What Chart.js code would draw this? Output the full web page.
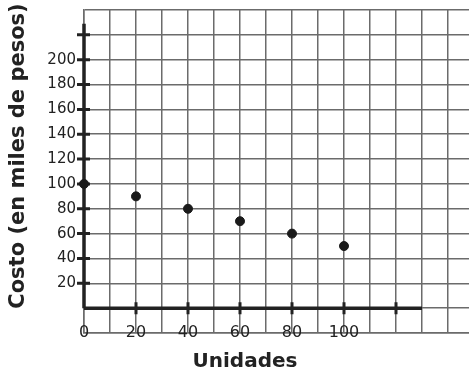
<!DOCTYPE html>
<html>
<head>
<meta charset="utf-8">
<script src="https://cdn.jsdelivr.net/npm/chart.js@4"></script>
<style>
  html, body { margin: 0; padding: 0; background: #fff; overflow: hidden; }
  #wrap { width: 469px; height: 373px; overflow: hidden; }
</style>
</head>
<body>
<!-- canvas is a bit wider than the window: the grid runs off the right edge -->
<div id="wrap"><canvas id="chart" width="474" height="373"></canvas></div>
<script>
// data
const unidades = [0, 20, 40, 60, 80, 100];
const costo = [100, 90, 80, 70, 60, 50];
const xLabels = [0, 20, 40, 60, 80, 100];
const yLabels = [20, 40, 60, 80, 100, 120, 140, 160, 180, 200];
const xMarks = [20, 40, 60, 80, 100, 120];
const yMarks = [20, 40, 60, 80, 100, 120, 140, 160, 180, 200, 220];

const gridColor = "#6b6b6b";
const axisColor = "#222";

// thick axes with tick marks, x labels on the bottom grid line, axis titles
const axesPlugin = {
  id: "axesPlugin",
  beforeDatasetsDraw(chart) {
    const { ctx, scales, chartArea } = chart;
    const x = scales.x, y = scales.y;
    const x0 = x.getPixelForValue(0), y0 = y.getPixelForValue(0);
    ctx.save();
    ctx.strokeStyle = axisColor;
    ctx.lineWidth = 3.5;
    ctx.beginPath();
    ctx.moveTo(x0, y0);
    ctx.lineTo(x.getPixelForValue(130), y0);
    ctx.moveTo(x0, y0);
    ctx.lineTo(x0, y.getPixelForValue(229));
    ctx.stroke();
    ctx.lineWidth = 3;
    ctx.beginPath();
    xMarks.forEach(v => {
      const px = x.getPixelForValue(v);
      ctx.moveTo(px, y0 - 6);
      ctx.lineTo(px, y0 + 6);
    });
    yMarks.forEach(v => {
      const py = y.getPixelForValue(v);
      ctx.moveTo(x0 - 7, py);
      ctx.lineTo(x0 + 6, py);
    });
    ctx.stroke();

    ctx.fillStyle = "#222";
    ctx.font = "16px 'DejaVu Sans'";
    ctx.textAlign = "center";
    ctx.textBaseline = "middle";
    xLabels.forEach(v => {
      ctx.fillText(String(v), x.getPixelForValue(v), chartArea.bottom);
    });
    ctx.restore();
  },
  afterDraw(chart) {
    const { ctx } = chart;
    ctx.save();
    ctx.fillStyle = "#222";
    ctx.font = "bold 20px 'DejaVu Sans'";
    ctx.textAlign = "center";
    ctx.textBaseline = "middle";
    ctx.fillText("Unidades", 245, 362);
    ctx.font = "bold 21px 'DejaVu Sans'";
    ctx.translate(19, 156);
    ctx.rotate(-Math.PI / 2);
    ctx.fillText("Costo (en miles de pesos)", 0, 0);
    ctx.restore();
  }
};

function noPad(s) {
  s.paddingTop = 0;
  s.paddingBottom = 0;
  s.paddingLeft = 0;
  s.paddingRight = 0;
}

new Chart(document.getElementById("chart"), {
  type: "scatter",
  data: {
    datasets: [{
      data: unidades.map((u, i) => ({ x: u, y: costo[i] })),
      backgroundColor: "#1a1a1a",
      borderColor: "#1a1a1a",
      pointRadius: 4.5,
      pointHoverRadius: 4.5,
      clip: false
    }]
  },
  options: {
    responsive: false,
    animation: false,
    events: [],
    layout: { autoPadding: false, padding: { top: 10, right: 0, left: 0, bottom: 0 } },
    plugins: { legend: { display: false }, tooltip: { enabled: false } },
    scales: {
      x: {
        type: "linear",
        min: 0,
        max: 150,
        afterFit(s) { s.height = 40; noPad(s); },
        grid: { color: gridColor, lineWidth: 1.5, drawTicks: false },
        border: { display: true, color: gridColor, width: 1.5 },
        ticks: {
          stepSize: 10,
          autoSkip: false,
          maxRotation: 0,
          display: false
        }
      },
      y: {
        type: "linear",
        min: -20,
        max: 240,
        afterFit(s) { s.width = 84; noPad(s); },
        grid: { color: gridColor, lineWidth: 1.5, drawTicks: false },
        border: { display: true, color: gridColor, width: 1.5 },
        ticks: {
          stepSize: 20,
          autoSkip: false,
          padding: 8,
          color: "#222",
          font: { family: "'DejaVu Sans'", size: 15 },
          callback: v => (yLabels.includes(v) ? String(v) : "")
        }
      }
    }
  },
  plugins: [axesPlugin]
});
</script>
</body>
</html>
